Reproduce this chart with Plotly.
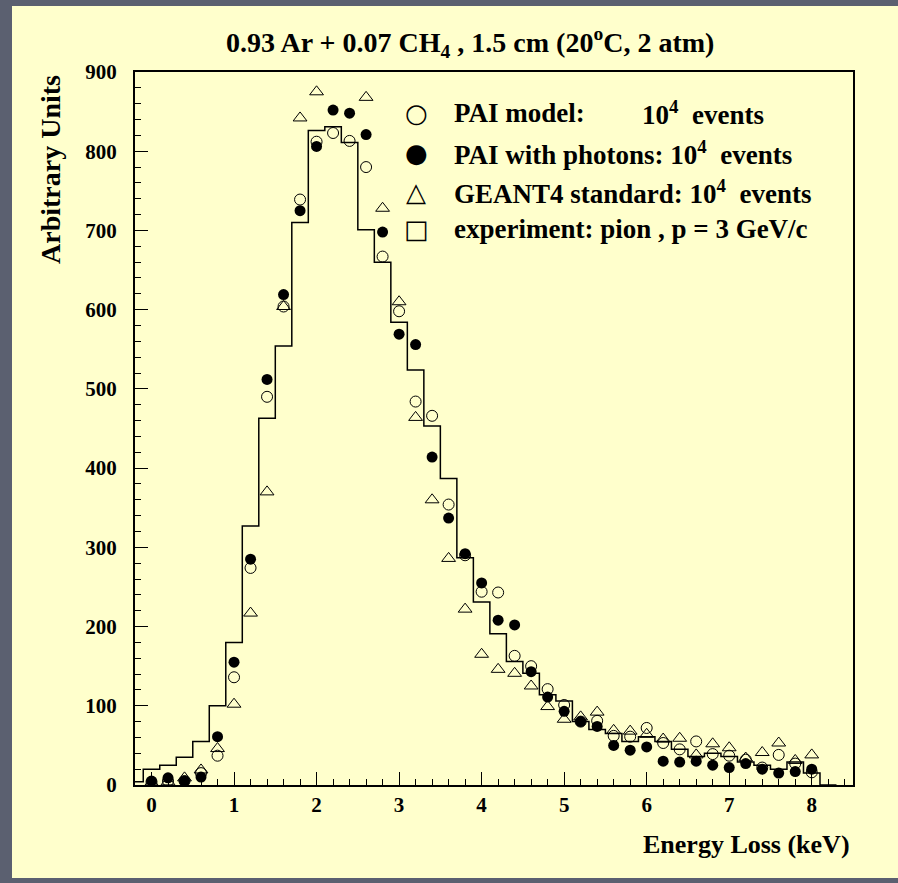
import plotly.graph_objects as go

# ---------------- data ----------------
energy = [0.0, 0.2, 0.4, 0.6, 0.8, 1.0, 1.2, 1.4, 1.6, 1.8, 2.0, 2.2, 2.4, 2.6, 2.8,
          3.0, 3.2, 3.4, 3.6, 3.8, 4.0, 4.2, 4.4, 4.6, 4.8, 5.0, 5.2, 5.4, 5.6, 5.8,
          6.0, 6.2, 6.4, 6.6, 6.8, 7.0, 7.2, 7.4, 7.6, 7.8, 8.0]

pai_model = [4, 5, 5, 15, 37, 136, 274, 490, 604, 739, 812, 823, 813, 780, 667,
             598, 484, 466, 354, 290, 244, 243, 163, 150, 121, 101, 80, 81, 62, 61,
             72, 53, 45, 55, 39, 37, 32, 22, 38, 27, 16]

pai_photons = [5, 9, 5, 10, 61, 155, 285, 512, 619, 725, 806, 852, 848, 821, 698,
               569, 556, 414, 337, 292, 255, 208, 202, 143, 111, 93, 80, 74, 50, 44,
               48, 30, 29, 30, 25, 22, 27, 20, 15, 17, 20]

geant4_std = [3, 4, 9, 19, 46, 102, 217, 370, 604, 842, 875, 930, 925, 868, 728,
              610, 464, 360, 286, 222, 165, 146, 141, 125, 99, 83, 86, 92, 69, 68,
              64, 58, 59, 38, 52, 47, 34, 41, 53, 31, 38]

exp_centers = [-0.2, 0.0, 0.2, 0.4, 0.6, 0.8, 1.0, 1.2, 1.4, 1.6, 1.8, 2.0, 2.2, 2.4,
               2.6, 2.8, 3.0, 3.2, 3.4, 3.6, 3.8, 4.0, 4.2, 4.4, 4.6, 4.8, 5.0, 5.2,
               5.4, 5.6, 5.8, 6.0, 6.2, 6.4, 6.6, 6.8, 7.0, 7.2, 7.4, 7.6, 7.8, 8.0, 8.2]
exp_values = [4, 20, 25, 35, 55, 100, 180, 327, 463, 554, 710, 826, 831, 811,
              701, 660, 584, 524, 453, 387, 287, 231, 191, 156, 141, 114, 106, 80,
              70, 65, 55, 61, 55, 45, 36, 40, 36, 29, 25, 20, 29, 15, 0]
bin_width = 0.2

title_text = "0.93 Ar + 0.07 CH<sub>4</sub> , 1.5 cm (20<sup>o</sup>C, 2 atm)"
x_title = "Energy Loss (keV)"
y_title = "Arbitrary Units"
legend_symbols = ["\u25CB", "\u25CF", "\u25B3", "\u25A1"]
legend_labels = ["PAI model:", "PAI with photons: 10<sup>4</sup>&nbsp;&nbsp;events",
                 "GEANT4 standard: 10<sup>4</sup>&nbsp;&nbsp;events",
                 "experiment: pion , p = 3 GeV/c"]

# ---------------- figure ----------------
W, H = 898, 883
L, R, T, B = 135, 45, 72, 98
pw, ph = W - L - R, H - T - B

def px_x(p):
    return (p - L) / pw

def px_y(p):
    return (H - B - p) / ph

SERIF = "Liberation Serif"
YELLOW = "#ffffcc"
GRAY = "#5b6070"

fig = go.Figure()

# experiment histogram as steps
edges = [c - bin_width / 2 for c in exp_centers] + [exp_centers[-1] + bin_width / 2]
step_y = exp_values + [exp_values[-1]]
fig.add_trace(go.Scatter(x=edges, y=step_y, mode="lines", line_shape="hv",
                         line=dict(color="black", width=1.5), name="experiment",
                         showlegend=False, hoverinfo="skip"))

fig.add_trace(go.Scatter(x=energy, y=geant4_std, mode="markers", name="GEANT4 standard",
                         marker=dict(symbol="triangle-up-open", size=12, color="black",
                                     line=dict(width=1, color="black")),
                         showlegend=False))
fig.add_trace(go.Scatter(x=energy, y=pai_model, mode="markers", name="PAI model",
                         marker=dict(symbol="circle-open", size=11, color="black",
                                     line=dict(width=1, color="black")),
                         showlegend=False))
fig.add_trace(go.Scatter(x=energy, y=pai_photons, mode="markers", name="PAI with photons",
                         marker=dict(symbol="circle", size=11, color="black"),
                         showlegend=False))

annotations = []
annotations.append(dict(text="<b>" + title_text + "</b>", x=px_x(470), y=px_y(42),
                        xref="paper", yref="paper", xanchor="center", yanchor="middle",
                        showarrow=False, font=dict(family=SERIF, size=28, color="black")))
annotations.append(dict(text="<b>" + x_title + "</b>", x=px_x(852), y=px_y(845),
                        xref="paper", yref="paper", xanchor="right", yanchor="middle",
                        showarrow=False, font=dict(family=SERIF, size=26, color="black")))
annotations.append(dict(text="<b>" + y_title + "</b>", x=px_x(50), y=px_y(170),
                        xref="paper", yref="paper", xanchor="center", yanchor="middle",
                        textangle=-90, showarrow=False,
                        font=dict(family=SERIF, size=28, color="black")))

rows = [113, 152.7, 191.7, 229.3]
for sym, lab, ry in zip(legend_symbols, legend_labels, rows):
    annotations.append(dict(text=sym, x=px_x(416), y=px_y(ry), xref="paper", yref="paper",
                            xanchor="center", yanchor="middle", showarrow=False,
                            font=dict(family="DejaVu Sans", size=26, color="black")))
    annotations.append(dict(text="<b>" + lab + "</b>", x=px_x(452), y=px_y(ry),
                            xref="paper", yref="paper", xanchor="left", yanchor="middle",
                            showarrow=False, font=dict(family=SERIF, size=27, color="black")))
annotations.append(dict(text="<b>10<sup>4</sup>&nbsp;&nbsp;events</b>", x=px_x(640), y=px_y(rows[0]),
                        xref="paper", yref="paper", xanchor="left", yanchor="middle",
                        showarrow=False, font=dict(family=SERIF, size=27, color="black")))

# slide frame: gray border strips around the light-yellow page
shapes = [
    dict(type="rect", xref="paper", yref="paper", layer="below",
         x0=px_x(-10), x1=px_x(12), y0=px_y(H + 10), y1=px_y(-10),
         fillcolor=GRAY, line=dict(width=0)),
    dict(type="rect", xref="paper", yref="paper", layer="below",
         x0=px_x(-10), x1=px_x(W + 10), y0=px_y(6), y1=px_y(-10),
         fillcolor=GRAY, line=dict(width=0)),
    dict(type="rect", xref="paper", yref="paper", layer="below",
         x0=px_x(-10), x1=px_x(W + 10), y0=px_y(H + 10), y1=px_y(878),
         fillcolor=GRAY, line=dict(width=0)),
]

axis_common = dict(showline=True, linecolor="black", linewidth=2, mirror=True,
                   ticks="inside", tickcolor="black", tickwidth=1, ticklen=13,
                   showgrid=False, zeroline=False,
                   tickfont=dict(family=SERIF, size=21, color="black", weight="bold"))

fig.update_layout(
    width=W, height=H, autosize=False,
    margin=dict(l=L, r=R, t=T, b=B, pad=0),
    paper_bgcolor=YELLOW, plot_bgcolor=YELLOW,
    showlegend=False,
    xaxis=dict(range=[-0.2, 8.5], tick0=0, dtick=1, ticklabelstandoff=0,
               minor=dict(ticks="inside", ticklen=6, tickcolor="black", tickwidth=1,
                          tick0=0, dtick=0.2),
               **axis_common),
    yaxis=dict(range=[0, 900], tick0=0, dtick=100, ticklabelstandoff=12,
               minor=dict(ticks="inside", ticklen=6, tickcolor="black", tickwidth=1,
                          tick0=0, dtick=20),
               **axis_common),
    annotations=annotations,
    shapes=shapes,
)

fig.write_html("out.html", config={"displayModeBar": False},
               post_script="document.body.style.margin='0px';"
                           "document.body.style.overflow='hidden';"
                           "document.documentElement.style.overflow='hidden';"
                           "document.body.style.background='#ffffcc';"
                           "document.documentElement.style.background='#ffffcc';")
